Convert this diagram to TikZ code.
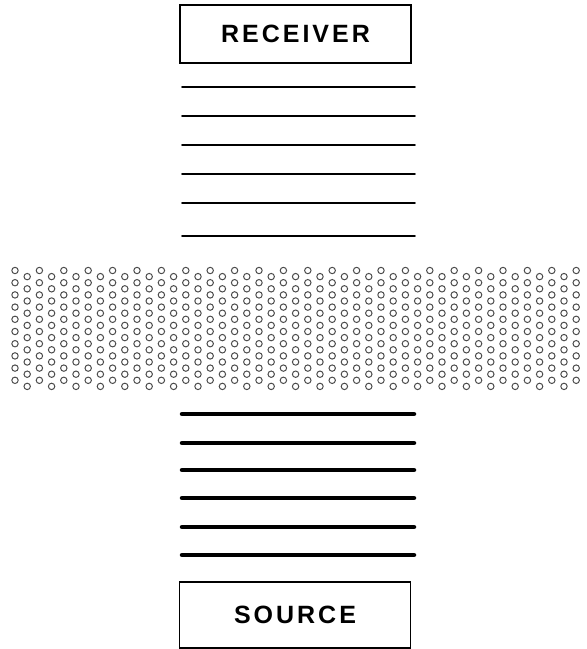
\documentclass[tikz,border=0pt]{standalone}
\usepackage{fontspec}
\setmainfont{Liberation Sans}
\newfontfamily\labelfont[LetterSpace=12]{Liberation Sans}
\tikzset{
  endbox/.style={draw,line width=1.6pt,minimum width=231pt,minimum height=58pt,inner sep=0pt,
    font=\labelfont\fontsize{25}{25}\bfseries},
  thinplate/.style={line width=1.8pt,line cap=round},
  thickplate/.style={line width=4.5pt,line cap=round},
  grain/.style={draw=black!70,line width=1pt}
}

\begin{document}
\begin{tikzpicture}[x=1pt,y=-1pt]
  \useasboundingbox (0,0) rectangle (587,649);
  \node[endbox] (receiver) at (295.5,34) {RECEIVER};
  \node[endbox,minimum height=66pt] (source) at (295,615) {SOURCE};

  % lines above the medium
  \draw[thinplate] (182,87) -- (415,87);
  \draw[thinplate] (182,116) -- (415,116);
  \draw[thinplate] (182,145) -- (415,145);
  \draw[thinplate] (182,174) -- (415,174);
  \draw[thinplate] (182,203) -- (415,203);
  \draw[thinplate] (182,236) -- (415,236);

  % porous medium
  \foreach \i in {0,...,46}{
    \pgfmathsetmacro{\xx}{15+12.2*\i}
    \pgfmathsetmacro{\yy}{270.5+6.1*mod(\i,2)}
    \foreach \j in {0,...,9}
      \draw[grain] (\xx,\yy+12.2*\j) circle[radius=3.2pt];
  }

  % lines below the medium
  \draw[thickplate] (182,414) -- (414,414);
  \draw[thickplate] (182,443) -- (414,443);
  \draw[thickplate] (182,470) -- (414,470);
  \draw[thickplate] (182,498) -- (414,498);
  \draw[thickplate] (182,527) -- (414,527);
  \draw[thickplate] (182,555) -- (414,555);
\end{tikzpicture}
\end{document}
